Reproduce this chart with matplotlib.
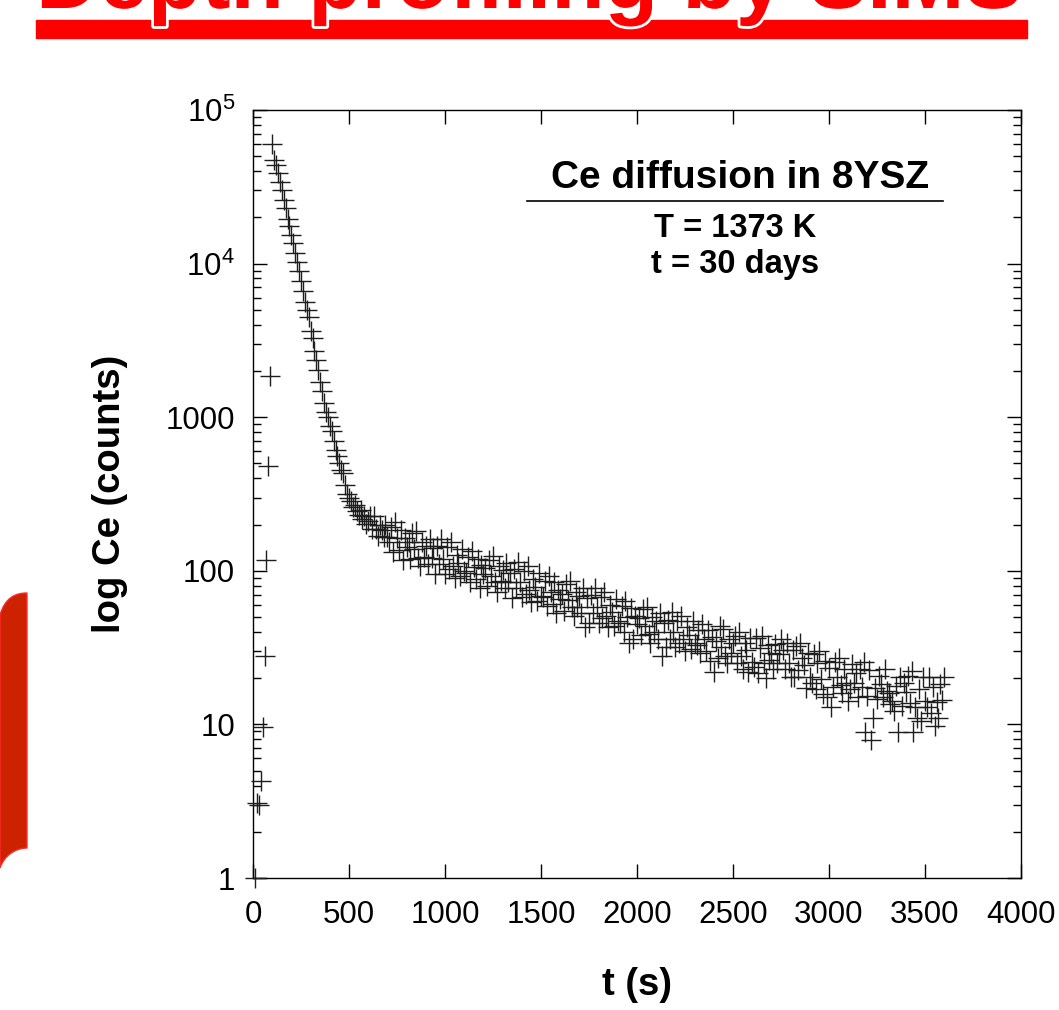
import numpy as np
import matplotlib.pyplot as plt
import matplotlib.patheffects as pe
from matplotlib.path import Path
from matplotlib.patches import PathPatch, Rectangle
from matplotlib.transforms import Affine2D
from matplotlib.ticker import FixedLocator, FixedFormatter, LogLocator, NullFormatter

plt.rcParams['font.family'] = ['Liberation Sans', 'DejaVu Sans']

# Ce SIMS depth profile, one reading every 10 s
t_step = 10
counts = [
    1, 3.1, 3.0, 4.3, 9.6, 28, 118, 480, 1850, 60000,               # 10-100 s
    47000, 44000, 39000, 34000, 30000, 26000, 23000, 19500, 17500, 15400,
    13700, 11800, 10200, 8900, 7700, 6600, 5600, 5000, 4500, 3630,
    3300, 2700, 2340, 2020, 1700, 1480, 1230, 1085, 1000, 880,
    815, 695, 615, 560, 500, 450, 430, 363, 316, 300,               # 410-500 s
    283, 262, 270, 245, 232, 250, 218, 228, 203, 212,
    227, 188, 228, 186, 169, 198, 184, 165, 199, 166,
    155, 194, 133, 209, 163, 136, 184, 117, 164, 143,
    155, 120, 176, 138, 182, 122, 107, 154, 123, 145,
    111, 161, 122, 140, 96, 146, 111, 161, 120, 96,                 # 910-1000 s
    142, 102, 153, 107, 90, 127, 112, 92, 139, 99,
    97, 123, 85, 134, 106, 89, 120, 77, 109, 95,
    104, 80, 118, 93, 124, 84, 73, 107, 86, 101,
    77, 113, 85, 97, 67, 103, 77, 114, 85, 68,
    100, 71, 107, 75, 63, 88, 78, 64, 97, 69,                       # 1410-1500 s
    68, 86, 59, 93, 73, 61, 84, 53, 75, 66,
    71, 55, 82, 65, 86, 58, 51, 73, 58, 69,
    53, 77, 43, 67, 46, 70, 53, 77, 58, 46,
    68, 49, 73, 51, 43, 60, 54, 44, 66, 47,
    46, 59, 40, 64, 50, 34, 57, 36, 51, 45,                         # 1910-2000 s
    49, 38, 56, 44, 58, 39, 34, 50, 40, 47,
    36, 53, 28, 46, 32, 48, 36, 54, 40, 32,
    47, 34, 51, 36, 30, 43, 38, 31, 47, 34,
    33, 41, 29, 45, 36, 30, 41, 26, 37, 22,
    35, 27, 44, 32, 42, 28, 25, 36, 29, 34,                         # 2410-2500 s
    37.6, 25, 40, 28, 23, 34, 30.5, 22, 36.5, 25.5,
    23.6, 36.6, 21.6, 31.6, 37.8, 25, 19.9, 32.9, 26.1, 29.2,
    22.8, 33.2, 25.1, 28.8, 36, 30.4, 23, 33.8, 25.2, 20.2,
    30.3, 20.2, 32.2, 22.5, 34, 27.1, 24.3, 17.3, 29, 20.2,
    18.7, 28.9, 17.1, 25, 30, 19.8, 15.8, 26, 15, 23.2,             # 2910-3000 s
    13, 17.4, 25.6, 20.3, 27, 18.1, 16, 23.1, 18.6, 14.3,
    16.9, 24.8, 18.7, 21.6, 15, 22.9, 17.4, 25.5, 8.9, 15.4,
    22.7, 7.9, 11, 17.3, 14.6, 20.6, 18.3, 15.1, 22.8, 16.4,
    16.1, 13.6, 14.2, 12.3, 17.9, 8.9, 20.4, 13.1, 18.5, 16.2,
    20.6, 13.8, 22.2, 8.9, 13, 11, 17.1, 10.5, 20.4, 14.1,          # 3410-3500 s
    13, 20.2, 11.9, 17.5, 9.8, 13.9, 11, 18.2, 14.5, 20.5,
]
time = t_step * np.arange(1, len(counts) + 1)

x_ticks = [0, 500, 1000, 1500, 2000, 2500, 3000, 3500, 4000]
y_ticks = [1, 10, 100, 1000, 1e4, 1e5]
y_tick_labels = ['1', '10', '100', '1000', r'$\mathregular{10^4}$', r'$\mathregular{10^5}$']

W, H = 1059, 1010
fig = plt.figure(figsize=(W / 100, H / 100), dpi=100)
ax = fig.add_axes([253 / W, 1 - 878 / H, 768 / W, 768 / H])

ax.plot(time, counts, ls='none', marker='+', ms=14, mew=1.0, color='#1e1e1e',
        zorder=3, clip_on=False)

ax.set_yscale('log')
ax.set_xlim(0, 4000)
ax.set_ylim(1, 1e5)
ax.set_xticks(x_ticks)
ax.yaxis.set_major_locator(FixedLocator(y_ticks))
ax.yaxis.set_major_formatter(FixedFormatter(y_tick_labels))
ax.yaxis.set_minor_locator(LogLocator(base=10, subs=range(2, 10)))
ax.yaxis.set_minor_formatter(NullFormatter())

ax.tick_params(which='both', direction='in', top=True, right=True, width=1.0)
ax.tick_params(which='major', length=10, labelsize=22.5)
ax.tick_params(which='minor', length=5.5)
ax.tick_params(axis='x', which='minor', top=False, bottom=False)
ax.tick_params(axis='y', pad=13)
ax.tick_params(axis='x', pad=16)
for s in ax.spines.values():
    s.set_linewidth(1.0)

ax.set_ylabel('log Ce (counts)', fontsize=27.5, fontweight='bold', va='center')
ax.yaxis.set_label_coords(-0.186, 0.5)
ax.set_xlabel('t (s)', fontsize=27.5, fontweight='bold', va='center')
ax.xaxis.set_label_coords(0.5, -0.139)

# caption in the upper right
ax.text(0.634, 0.898, 'Ce diffusion in 8YSZ', transform=ax.transAxes,
        ha='center', va='baseline', fontsize=28, fontweight='bold')
ax.plot([0.357, 0.898], [0.8815, 0.8815], transform=ax.transAxes, color='black', lw=1.2)
ax.text(0.628, 0.8346, 'T = 1373 K', transform=ax.transAxes,
        ha='center', va='baseline', fontsize=23.5, fontweight='bold')
ax.text(0.628, 0.7878, 't = 30 days', transform=ax.transAxes,
        ha='center', va='baseline', fontsize=23.5, fontweight='bold')

# slide decorations (pixel coordinates, y down)
px = Affine2D().scale(1 / W, -1 / H).translate(0, 1) + fig.transFigure
fig.add_artist(Rectangle((36, 20), 991, 18, transform=px, color='red', zorder=1))
fig.text(36 / W, 1 - 8 / H, 'Depth profiling by SIMS', fontsize=63, fontweight='bold',
         color='red', ha='left', va='baseline', zorder=2,
         path_effects=[pe.withStroke(linewidth=4, foreground='white')])

verts = [(0, 615), (5, 598), (15, 593), (27, 593), (27, 848),
         (15, 848), (4, 856), (0, 868), (0, 615)]
codes = [Path.MOVETO, Path.CURVE4, Path.CURVE4, Path.CURVE4, Path.LINETO,
         Path.CURVE4, Path.CURVE4, Path.CURVE4, Path.CLOSEPOLY]
fig.add_artist(PathPatch(Path(verts, codes), transform=px, facecolor='#cc2200',
                         edgecolor='#ff2a2a', lw=1.0, zorder=1))

fig.savefig('out.png', dpi=100)
